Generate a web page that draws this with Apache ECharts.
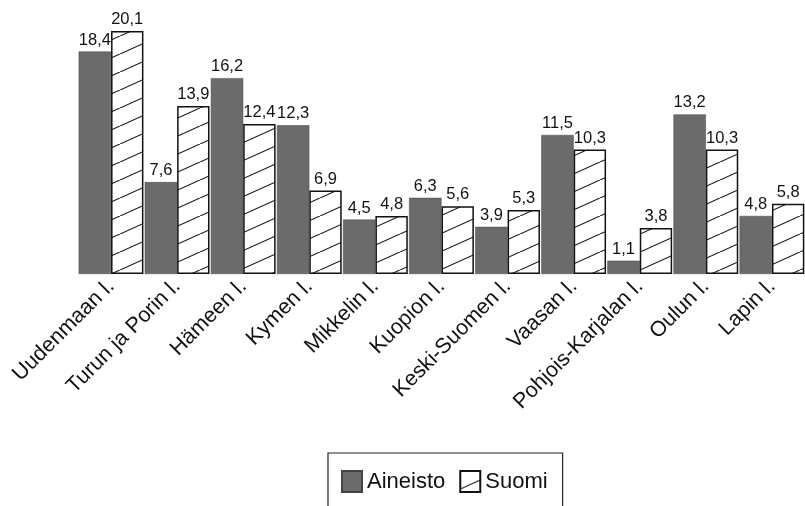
<!DOCTYPE html>
<html><head><meta charset="utf-8">
<script src="https://cdn.jsdelivr.net/npm/echarts@6/dist/echarts.min.js"></script>
<style>html,body{margin:0;padding:0;background:#fff}#c{width:805px;height:506px}</style>
</head><body><div id="c"></div>
<script>
const categories = ['Uudenmaan l.', 'Turun ja Porin l.', 'Hämeen l.', 'Kymen l.', 'Mikkelin l.', 'Kuopion l.', 'Keski-Suomen l.', 'Vaasan l.', 'Pohjois-Karjalan l.', 'Oulun l.', 'Lapin l.'];
const aineisto = [18.4, 7.6, 16.2, 12.3, 4.5, 6.3, 3.9, 11.5, 1.1, 13.2, 4.8];
const suomi = [20.1, 13.9, 12.4, 6.9, 4.8, 5.6, 5.3, 10.3, 3.8, 10.3, 5.8];

function hatch() {
  const W = 40, H = 18;
  const cv = document.createElement('canvas');
  cv.width = W; cv.height = H;
  const g = cv.getContext('2d');
  g.fillStyle = '#fff'; g.fillRect(0, 0, W, H);
  g.strokeStyle = '#111'; g.lineWidth = 1.1;
  g.beginPath();
  g.moveTo(0, H); g.lineTo(W, 0);
  g.moveTo(-W, H); g.lineTo(0, 0);
  g.moveTo(W, H); g.lineTo(2 * W, 0);
  g.stroke();
  return cv;
}
const fmt = p => String(p.value).replace('.', ',');
const chart = echarts.init(document.getElementById('c'));
chart.setOption({
  animation: false,
  textStyle: { fontFamily: 'Liberation Sans, Arial, sans-serif' },
  grid: { left: 78, right: 0, top: 8, bottom: 232 },
  xAxis: {
    type: 'category', data: categories,
    axisLine: { show: false }, axisTick: { show: false },
    axisLabel: { rotate: 45, margin: 9, fontSize: 21.5, color: '#111', interval: 0 }
  },
  yAxis: { type: 'value', min: 0, max: 22, show: false, splitLine: { show: false } },
  legend: {
    top: 453, left: 328,
    data: ['Aineisto', 'Suomi'],
    icon: 'rect',
    borderColor: '#222', borderWidth: 1.2,
    padding: [17, 15, 24, 13],
    itemWidth: 20, itemHeight: 21, itemGap: 14,
    textStyle: { fontSize: 22, color: '#111' }
  },
  series: [
    {
      name: 'Aineisto', type: 'bar', data: aineisto,
      barGap: '0%', barCategoryGap: '2%',
      itemStyle: { color: '#6b6b6b', borderColor: '#444', borderWidth: 0.5 },
      label: { show: true, position: 'top', distance: 3, fontSize: 16.5, color: '#111', formatter: fmt }
    },
    {
      name: 'Suomi', type: 'bar', data: suomi,
      itemStyle: { color: { image: hatch(), repeat: 'repeat' }, borderColor: '#111', borderWidth: 1.5 },
      label: { show: true, position: 'top', distance: 3, fontSize: 16.5, color: '#111', formatter: fmt }
    }
  ]
});
</script></body></html>
